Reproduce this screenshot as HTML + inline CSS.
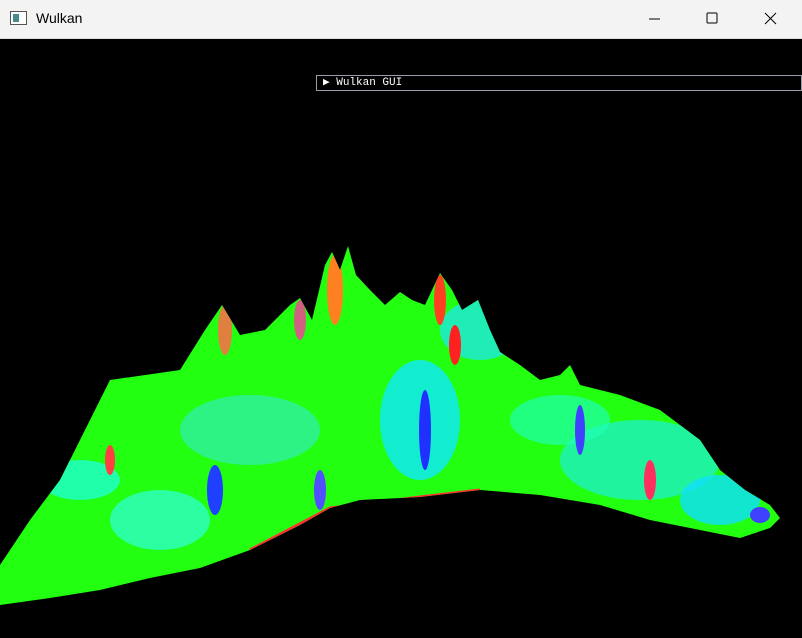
<!DOCTYPE html>
<html><head><meta charset="utf-8"><style>
html,body{margin:0;padding:0;width:802px;height:638px;overflow:hidden;background:#000;font-family:"Liberation Sans",sans-serif}
#titlebar{position:absolute;left:0;top:0;width:802px;height:38px;background:#f3f3f3;border-bottom:1px solid #ddd}
#title{position:absolute;left:36px;top:10px;font-size:14px;color:#000}
#gui{position:absolute;left:316px;top:75px;width:486px;height:16px;border:1px solid #9a9aa8;box-sizing:border-box;color:#fff;font-family:"Liberation Mono",monospace;font-size:11px;line-height:14px;padding-left:6px}
</style></head><body>
<div id="titlebar">
<svg style="position:absolute;left:10px;top:11px" width="18" height="16"><rect x="0.5" y="0.5" width="16" height="13" fill="#fff" stroke="#555"/><rect x="3" y="3" width="6" height="8" fill="#4a8a8a"/></svg>
<div id="title">Wulkan</div>
<svg style="position:absolute;left:640px;top:0" width="162" height="38">
<line x1="9" y1="19" x2="20" y2="19" stroke="#000"/>
<rect x="67" y="13" width="10" height="10" fill="none" stroke="#000" rx="1"/>
<path d="M125 13 L136 24 M136 13 L125 24" stroke="#000"/>
</svg>
</div>
<div id="gui">▶ Wulkan GUI</div>
<svg style="position:absolute;left:0;top:0" width="802" height="638">
<defs>
<clipPath id="tc"><path id="tp" d="M0,565 L30,520 L60,480 L90,420 L110,380 L180,370 L205,330 L222,305 L240,335 L265,330 L290,305 L300,298 L312,320 L325,265 L332,252 L340,270 L348,246 L356,275 L370,290 L385,305 L400,292 L412,300 L425,305 L440,273 L452,290 L462,310 L478,300 L490,330 L500,352 L520,365 L540,380 L560,375 L570,365 L580,385 L620,395 L660,410 L700,440 L720,470 L745,490 L770,505 L780,518 L770,528 L740,538 L700,530 L650,520 L600,505 L540,495 L480,490 L420,497 L360,500 L330,508 L300,525 L250,550 L200,568 L150,578 L100,590 L50,598 L0,605 Z"/></clipPath>
</defs>
<g clip-path="url(#tc)">
<rect x="0" y="240" width="802" height="380" fill="#22ff10"/>
<ellipse cx="250" cy="430" rx="70" ry="35" fill="#30f0a0" opacity="0.8"/>
<ellipse cx="80" cy="480" rx="40" ry="20" fill="#20ffd0" opacity="0.8"/>
<ellipse cx="420" cy="420" rx="40" ry="60" fill="#10e8ff" opacity="0.8"/>
<ellipse cx="640" cy="460" rx="80" ry="40" fill="#20f0c0" opacity="0.8"/>
<ellipse cx="720" cy="500" rx="40" ry="25" fill="#10e0ff" opacity="0.8"/>
<ellipse cx="480" cy="330" rx="40" ry="30" fill="#20e8e0" opacity="0.8"/>
<ellipse cx="560" cy="420" rx="50" ry="25" fill="#20ffb0" opacity="0.7"/>
<ellipse cx="160" cy="520" rx="50" ry="30" fill="#30ffe0" opacity="0.7"/>
<ellipse cx="215" cy="490" rx="8" ry="25" fill="#2040ff"/>
<ellipse cx="425" cy="430" rx="6" ry="40" fill="#2030ff"/>
<ellipse cx="455" cy="345" rx="6" ry="20" fill="#ff2020"/>
<ellipse cx="440" cy="300" rx="6" ry="25" fill="#ff4020"/>
<ellipse cx="335" cy="290" rx="8" ry="35" fill="#ff8020"/>
<ellipse cx="225" cy="330" rx="7" ry="25" fill="#e08040"/>
<ellipse cx="300" cy="320" rx="6" ry="20" fill="#d06080"/>
<ellipse cx="580" cy="430" rx="5" ry="25" fill="#4040ff"/>
<ellipse cx="650" cy="480" rx="6" ry="20" fill="#ff3060"/>
<ellipse cx="320" cy="490" rx="6" ry="20" fill="#5050ff"/>
<ellipse cx="110" cy="460" rx="5" ry="15" fill="#ff4040"/>
<ellipse cx="760" cy="515" rx="10" ry="8" fill="#4040ff"/>
<path d="M250,550 L330,508 L420,497 L480,490" stroke="#ff3030" stroke-width="3" fill="none"/>
</g>
</svg>
</body></html>
